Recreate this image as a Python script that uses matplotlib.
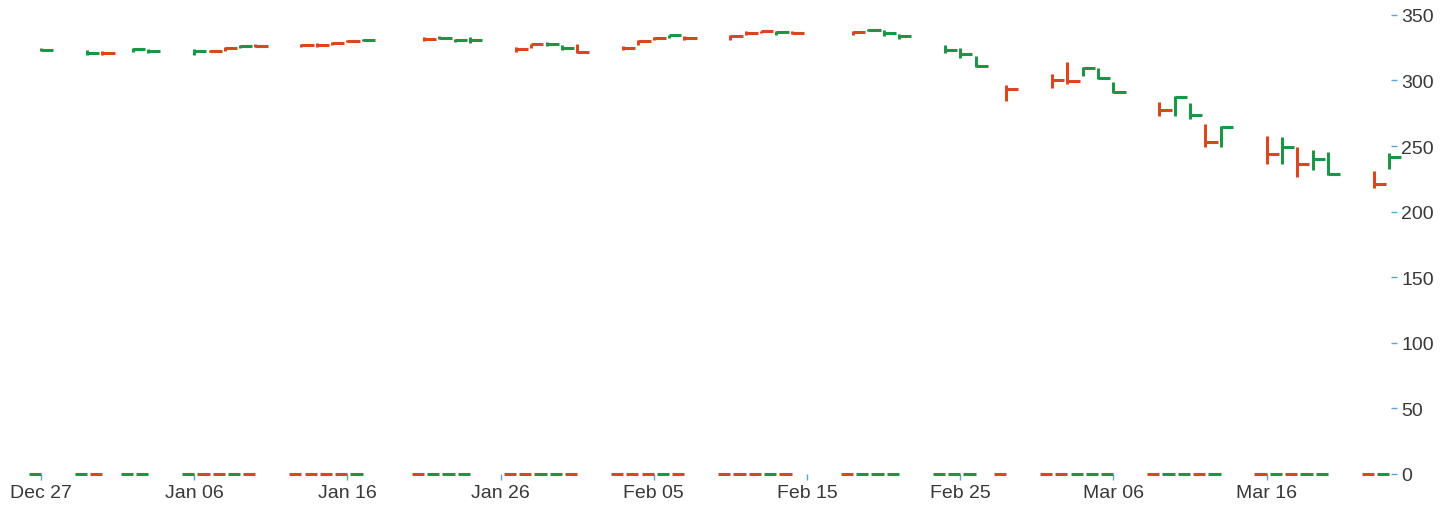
import numpy as np
import pandas as pd
import matplotlib
matplotlib.use('Agg')
import matplotlib.pyplot as plt
import matplotlib.dates as mdates

# daily bars, Feb 27 is missing in the source
dates = ['2019-12-27', '2019-12-30', '2019-12-31', '2020-01-02', '2020-01-03',
         '2020-01-06', '2020-01-07', '2020-01-08', '2020-01-09', '2020-01-10',
         '2020-01-13', '2020-01-14', '2020-01-15', '2020-01-16', '2020-01-17',
         '2020-01-21', '2020-01-22', '2020-01-23', '2020-01-24',
         '2020-01-27', '2020-01-28', '2020-01-29', '2020-01-30', '2020-01-31',
         '2020-02-03', '2020-02-04', '2020-02-05', '2020-02-06', '2020-02-07',
         '2020-02-10', '2020-02-11', '2020-02-12', '2020-02-13', '2020-02-14',
         '2020-02-18', '2020-02-19', '2020-02-20', '2020-02-21',
         '2020-02-24', '2020-02-25', '2020-02-26', '2020-02-28',
         '2020-03-02', '2020-03-03', '2020-03-04', '2020-03-05', '2020-03-06',
         '2020-03-09', '2020-03-10', '2020-03-11', '2020-03-12', '2020-03-13',
         '2020-03-16', '2020-03-17', '2020-03-18', '2020-03-19', '2020-03-20',
         '2020-03-23', '2020-03-24']

high = [324.6, 323.2, 322.2, 324.7, 323.9,
        324.2, 323.6, 325.9, 327.0, 327.6,
        327.9, 328.6, 329.3, 330.7, 331.6,
        332.8, 333.6, 331.9, 332.8,
        325.7, 328.2, 329.0, 326.8, 327.7,
        326.5, 330.9, 333.0, 334.9, 334.1,
        334.5, 337.4, 338.0, 338.1, 337.9,
        338.0, 339.1, 338.8, 335.8,
        326.8, 324.5, 318.6, 296.5,
        304.6, 314.2, 310.5, 309.2, 299.0,
        283.8, 288.1, 282.8, 266.5, 265.6,
        258.0, 257.0, 249.5, 246.9, 245.2,
        230.7, 244.7]

low = [322.2, 319.8, 319.8, 322.0, 321.0,
       319.8, 321.6, 322.6, 324.4, 325.7,
       325.6, 325.8, 327.0, 329.0, 330.3,
       330.3, 331.4, 329.2, 328.9,
       321.8, 324.8, 326.3, 323.3, 320.7,
       322.9, 327.3, 330.8, 332.6, 330.9,
       331.0, 334.5, 336.0, 334.8, 335.6,
       334.9, 337.4, 333.6, 331.8,
       320.6, 317.4, 310.6, 284.4,
       294.1, 297.1, 303.7, 301.2, 290.8,
       273.2, 272.8, 270.7, 249.0, 249.0,
       236.4, 236.4, 226.4, 231.5, 227.7,
       218.0, 232.5]

close = [323.6, 321.3, 321.1, 323.8, 322.5,
         322.3, 322.3, 324.9, 326.0, 326.3,
         327.1, 327.3, 328.4, 329.9, 331.2,
         331.5, 332.3, 330.8, 330.9,
         323.8, 327.6, 327.8, 325.0, 322.1,
         324.8, 330.1, 332.3, 334.5, 332.3,
         333.8, 336.3, 337.5, 337.3, 336.5,
         337.3, 338.7, 336.4, 333.8,
         323.0, 320.4, 311.0, 293.3,
         300.4, 299.8, 309.8, 302.0, 291.5,
         277.8, 287.5, 273.5, 253.4, 264.7,
         244.0, 249.0, 236.2, 240.5, 228.6,
         221.0, 241.3]

# open ticks all sit on the zero line in the reference
open_ = [0] * len(dates)

# 1 = up (green), 0 = down (red)
up = [1, 1, 0, 1, 1,
      1, 0, 0, 1, 0,
      0, 0, 0, 0, 1,
      0, 1, 1, 1,
      0, 0, 1, 1, 0,
      0, 0, 0, 1, 0,
      0, 0, 0, 1, 0,
      0, 1, 1, 1,
      1, 1, 1, 0,
      0, 0, 1, 1, 1,
      0, 1, 1, 0, 1,
      0, 1, 0, 1, 1,
      0, 1]

xtick_dates = ['2019-12-27', '2020-01-06', '2020-01-16', '2020-01-26', '2020-02-05',
               '2020-02-15', '2020-02-25', '2020-03-06', '2020-03-16']
xtick_labels = ['Dec 27', 'Jan 06', 'Jan 16', 'Jan 26', 'Feb 05',
                'Feb 15', 'Feb 25', 'Mar 06', 'Mar 16']
ytick_vals = [0, 50, 100, 150, 200, 250, 300, 350]

GREEN = '#1e9446'
RED = '#d9471e'
TICK = '#5aa6d6'
TEXT = '#383838'

plt.rcParams['font.family'] = ['Liberation Sans', 'DejaVu Sans']

x = mdates.date2num(pd.to_datetime(dates))
cols = np.where(np.array(up) == 1, GREEN, RED)
w = 0.8  # tick width in days
lw = 2.2

fig = plt.figure(figsize=(14.52, 5.06), dpi=100)
ax = fig.add_axes([0, 31 / 506, 1391 / 1452, 475 / 506])

ax.vlines(x, low, high, colors=cols, lw=lw, clip_on=False)
ax.hlines(close, x, x + w, colors=cols, lw=lw, clip_on=False)
ax.hlines(open_, x - w, x, colors=cols, lw=lw, clip_on=False)

px_per_day = 15.32
x0 = mdates.date2num(pd.Timestamp('2019-12-27'))
ax.set_xlim(x0 - 41 / px_per_day, x0 + (1391 - 41) / px_per_day)
ax.set_ylim(0, 475 / 1.3117)

ax.set_xticks(mdates.date2num(pd.to_datetime(xtick_dates)))
ax.set_xticklabels(xtick_labels)
ax.yaxis.tick_right()
ax.set_yticks(ytick_vals)

ax.tick_params(axis='both', colors=TICK, labelcolor=TEXT, length=4.3, width=1,
               labelsize=14)
ax.tick_params(axis='x', pad=3.2)
ax.tick_params(axis='y', pad=3.0)
for s in ax.spines.values():
    s.set_visible(False)

fig.savefig('out.png', dpi=100)
